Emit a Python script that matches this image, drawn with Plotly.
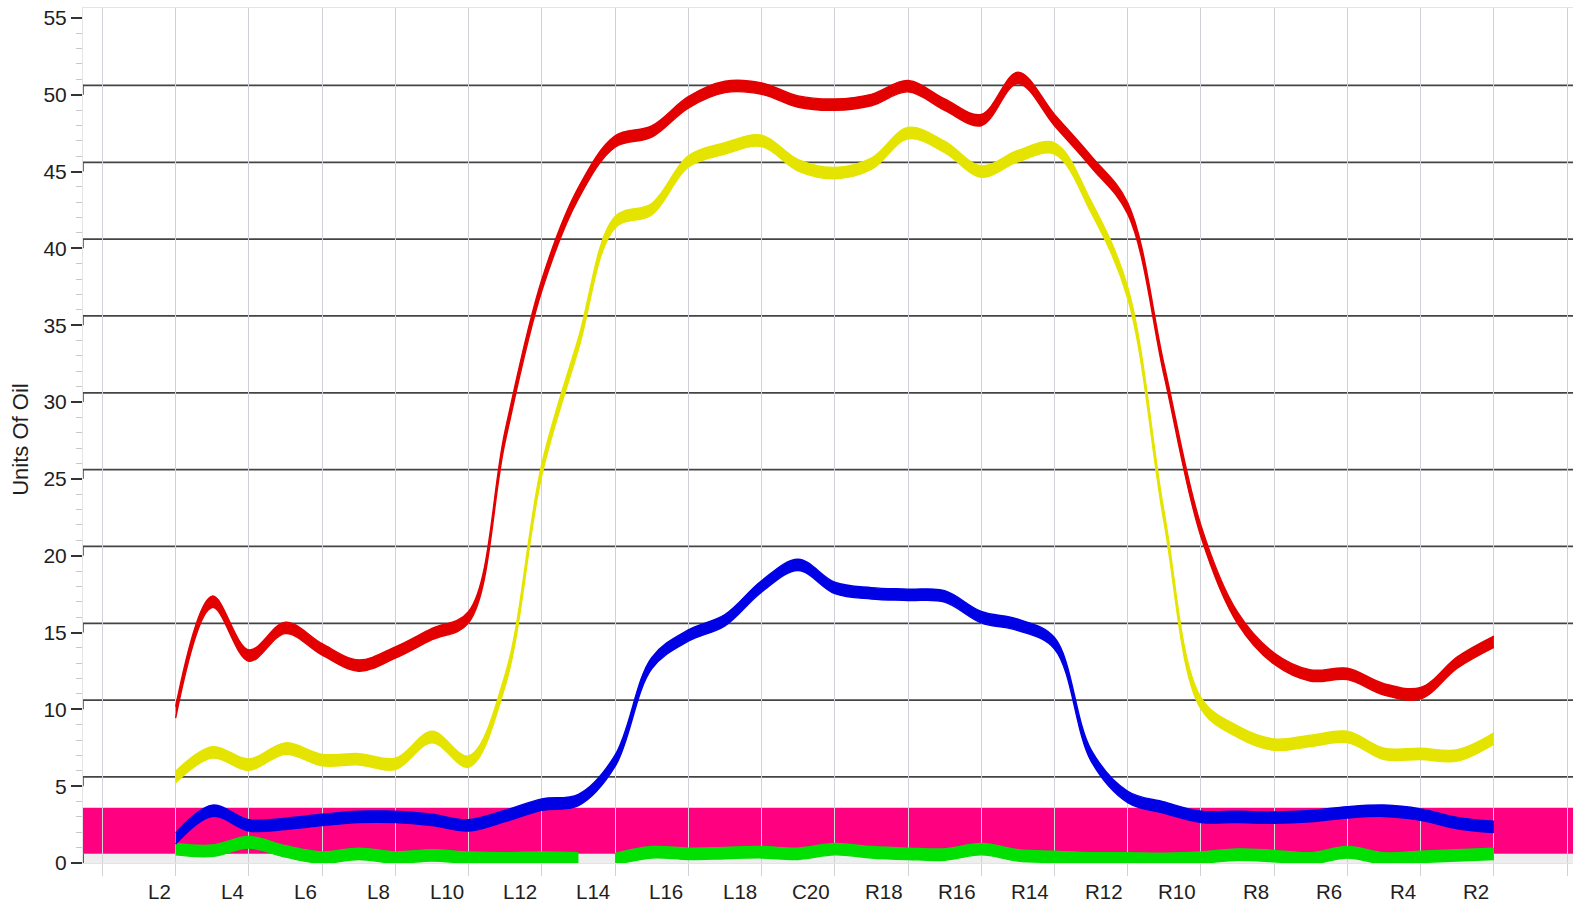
import plotly.graph_objects as go

# ---------------- data ----------------
categories = [f"L{n}" for n in range(2, 20)] + ["C20"] + [f"R{n}" for n in range(19, 1, -1)]
tick_labels = categories[::2]

red = [9.8, 17.0, 13.5, 15.3, 13.9, 12.85, 13.7, 14.9, 16.0, 27.8, 37.6, 43.6, 46.95,
       47.6, 49.5, 50.5, 50.4, 49.55, 49.35, 49.65, 50.55, 49.35, 48.35, 51.1, 48.35,
       45.65, 42.6, 32.0, 21.6, 15.95, 13.3, 12.2, 12.3, 11.3, 11.05, 13.05, 14.4]

yellow = [5.6, 7.2, 6.4, 7.45, 6.7, 6.75, 6.45, 8.2, 6.6, 11.9, 25.6, 33.8, 41.7,
          42.55, 45.65, 46.5, 47.0, 45.4, 44.9, 45.5, 47.5, 46.6, 45.0, 46.0, 46.5,
          42.7, 37.1, 22.4, 10.4, 8.55, 7.7, 7.95, 8.2, 7.1, 7.1, 7.0, 8.1]

blue = [1.6, 3.4, 2.45, 2.55, 2.8, 3.0, 3.0, 2.8, 2.45, 3.06, 3.8, 4.1, 6.65,
        13.0, 14.8, 15.8, 18.0, 19.4, 17.9, 17.55, 17.45, 17.35, 16.0, 15.5, 14.3,
        7.0, 4.3, 3.6, 3.0, 3.0, 2.95, 3.05, 3.3, 3.4, 3.15, 2.6, 2.35]

green = [0.9, 0.8, 1.35, 0.75, 0.35, 0.6, 0.35, 0.5, 0.35, 0.3, 0.35, 0.3,
         0.25, 0.7, 0.6, 0.65, 0.7, 0.6, 0.9, 0.7, 0.6, 0.55, 0.9, 0.5, 0.4,
         0.3, 0.3, 0.27, 0.35, 0.55, 0.45, 0.3, 0.7, 0.3, 0.4, 0.5, 0.6]
green_break_after = 11          # no line drawn between L13 and L14

y_tick_values = list(range(0, 56, 5))
grid_values = list(range(5, 51, 5))
band_magenta = (0.6, 3.6)
band_grey = (0.0, 0.6)

# ---------------- styling ----------------
FONT = "Liberation Sans, Arial, Helvetica, sans-serif"
HALF = 0.37            # half vertical thickness of the drawn curves (axis units)
EDGE = 1.4
GRID_SHIFT = 0.6       # horizontal grid lines sit slightly above their tick marks
VGRID = "#cfd2d7"
HGRID = "#444444"
C_RED, C_YEL, C_BLU, C_GRN = "#e20000", "#e4e400", "#0000e4", "#00e000"
C_MAG, C_GREY = "#ff0080", "#eeeeee"

x = list(range(len(categories)))

fig = go.Figure()


def add_band(xs, ys, color):
    lo = [v - HALF for v in ys]
    hi = [v + HALF for v in ys]
    fig.add_trace(go.Scatter(x=xs, y=lo, mode="lines",
                             line=dict(color=color, width=EDGE, shape="spline"),
                             hoverinfo="skip", showlegend=False))
    fig.add_trace(go.Scatter(x=xs, y=hi, mode="lines",
                             line=dict(color=color, width=EDGE, shape="spline"),
                             fill="tonexty", fillcolor=color,
                             hoverinfo="skip", showlegend=False))


k = green_break_after + 1
add_band(x[:k], green[:k], C_GRN)
add_band(x[k:], green[k:], C_GRN)
add_band(x, blue, C_BLU)
add_band(x, yellow, C_YEL)
add_band(x, red, C_RED)

# background bands
fig.add_shape(type="rect", xref="paper", x0=0, x1=1, yref="y",
              y0=band_grey[0], y1=band_grey[1], fillcolor=C_GREY,
              line=dict(width=0), layer="below")
fig.add_shape(type="rect", xref="paper", x0=0, x1=1, yref="y",
              y0=band_magenta[0], y1=band_magenta[1], fillcolor=C_MAG,
              line=dict(width=0), layer="below")
fig.add_shape(type="line", xref="paper", x0=0, x1=0, yref="y",
              y0=band_grey[0], y1=band_grey[1], line=dict(color=C_MAG, width=2),
              layer="below")

# horizontal grid lines with their little step from the tick mark
for v in grid_values:
    fig.add_shape(type="line", xref="paper", x0=0, x1=1, yref="y",
                  y0=v + GRID_SHIFT, y1=v + GRID_SHIFT,
                  line=dict(color=HGRID, width=1.7), layer="between")
    fig.add_shape(type="line", xref="paper", x0=0, x1=0, yref="y",
                  y0=v, y1=v + GRID_SHIFT,
                  line=dict(color=HGRID, width=1.5), layer="between")

# category labels, right-aligned against their grid line
for xi, lab in zip(x[::2], tick_labels):
    fig.add_annotation(x=xi, y=0, xref="x", yref="paper", text=lab,
                       showarrow=False, xanchor="right", yanchor="middle",
                       xshift=-3, yshift=-28.5,
                       font=dict(family=FONT, size=20.5, color="#1e1e1e"))

# y-axis title
fig.add_annotation(text="Units Of Oil", textangle=-90, showarrow=False,
                   xref="paper", x=0, xanchor="center", xshift=-62,
                   yref="paper", y=0.495, yanchor="middle",
                   font=dict(family=FONT, size=22, color="#1e1e1e"))

fig.update_layout(
    width=1573, height=907,
    margin=dict(l=83, r=0, t=8, b=44),
    plot_bgcolor="white", paper_bgcolor="white",
    font=dict(family=FONT, size=20, color="#1e1e1e"),
    xaxis=dict(range=[-2.53, 38.16], tickmode="array",
               tickvals=list(range(-2, 39, 2)), showticklabels=False,
               ticks="outside", ticklen=12, tickwidth=1.3, tickcolor=VGRID,
               showgrid=True, gridcolor=VGRID, gridwidth=1.3, zeroline=False,
               showline=True, linecolor="#e4e4e4", linewidth=1, mirror=True),
    yaxis=dict(range=[0, 55.64], tickmode="array", tickvals=y_tick_values,
               ticks="outside", ticklen=11, tickwidth=1.5, tickcolor="#333333",
               minor=dict(dtick=1, tick0=0, ticks="outside", ticklen=6,
                          tickcolor="#c8c8c8", tickwidth=1, showgrid=False),
               showgrid=False, zeroline=False, showline=True,
               linecolor="#e4e4e4", linewidth=1,
               tickfont=dict(family=FONT, size=21, color="#1e1e1e")),
)

fig.write_html(
    "out.html",
    config={"displayModeBar": False},
    post_script="document.body.style.margin='0';document.body.style.overflow='hidden';",
)
